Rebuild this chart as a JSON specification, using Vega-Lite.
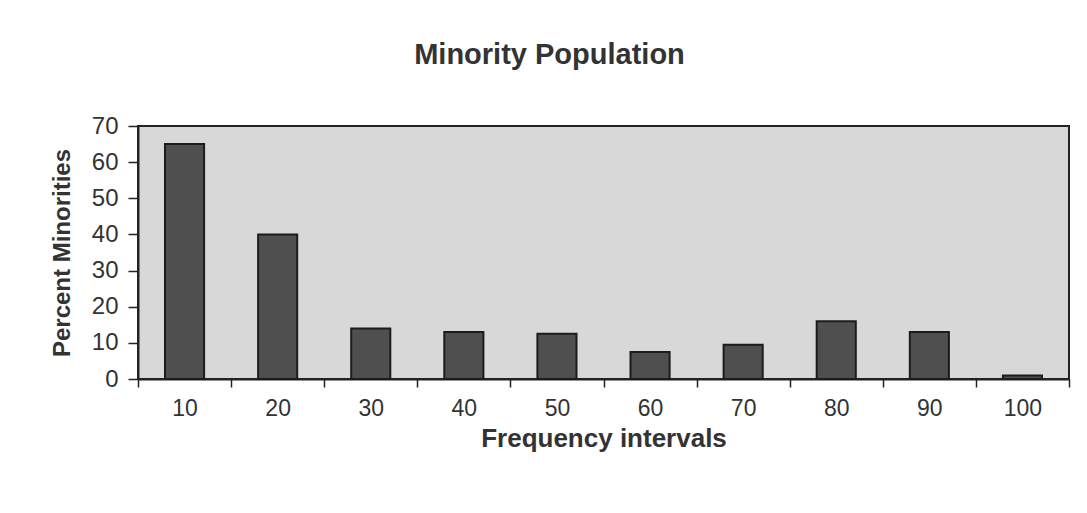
{
  "$schema": "https://vega.github.io/schema/vega-lite/v6.json",
  "autosize": {"type": "none"},
  "width": 931,
  "height": 253,
  "padding": {"left": 138, "top": 126, "right": 18, "bottom": 134},
  "background": "#ffffff",
  "title": {
    "text": "Minority Population",
    "font": "Liberation Sans",
    "fontSize": 29,
    "fontWeight": "bold",
    "color": "#333333",
    "anchor": "middle",
    "dx": -54,
    "offset": 44
  },
  "data": {
    "values": [
      {"interval": "10", "percent": 65},
      {"interval": "20", "percent": 40},
      {"interval": "30", "percent": 14},
      {"interval": "40", "percent": 13},
      {"interval": "50", "percent": 12.5},
      {"interval": "60", "percent": 7.5},
      {"interval": "70", "percent": 9.5},
      {"interval": "80", "percent": 16},
      {"interval": "90", "percent": 13},
      {"interval": "100", "percent": 1}
    ]
  },
  "mark": {
    "type": "bar",
    "width": {"band": 0.42},
    "fill": "#4f4f4f",
    "stroke": "#1c1c1c",
    "strokeWidth": 2
  },
  "encoding": {
    "x": {
      "field": "interval",
      "type": "ordinal",
      "sort": null,
      "scale": {"paddingInner": 0, "paddingOuter": 0},
      "axis": {
        "title": "Frequency intervals",
        "labelAngle": 0,
        "tickBand": "extent",
        "tickSize": 8,
        "labelPadding": 10,
        "titlePadding": 5,
        "titleFontSize": 26
      }
    },
    "y": {
      "field": "percent",
      "type": "quantitative",
      "scale": {"domain": [0, 70], "nice": false},
      "axis": {
        "title": "Percent Minorities",
        "values": [0, 10, 20, 30, 40, 50, 60, 70],
        "tickSize": 10,
        "labelPadding": 10,
        "labelFontSize": 24,
        "titlePadding": 17,
        "grid": false
      }
    }
  },
  "config": {
    "view": {"fill": "#d8d8d8", "stroke": "#222222", "strokeWidth": 2},
    "axis": {
      "labelFont": "Liberation Sans",
      "labelFontSize": 23,
      "labelColor": "#333333",
      "titleFont": "Liberation Sans",
      "titleFontSize": 24,
      "titleFontWeight": "bold",
      "titleColor": "#333333",
      "domainColor": "#222222",
      "domainWidth": 2,
      "tickColor": "#222222",
      "tickWidth": 1.5
    }
  }
}
